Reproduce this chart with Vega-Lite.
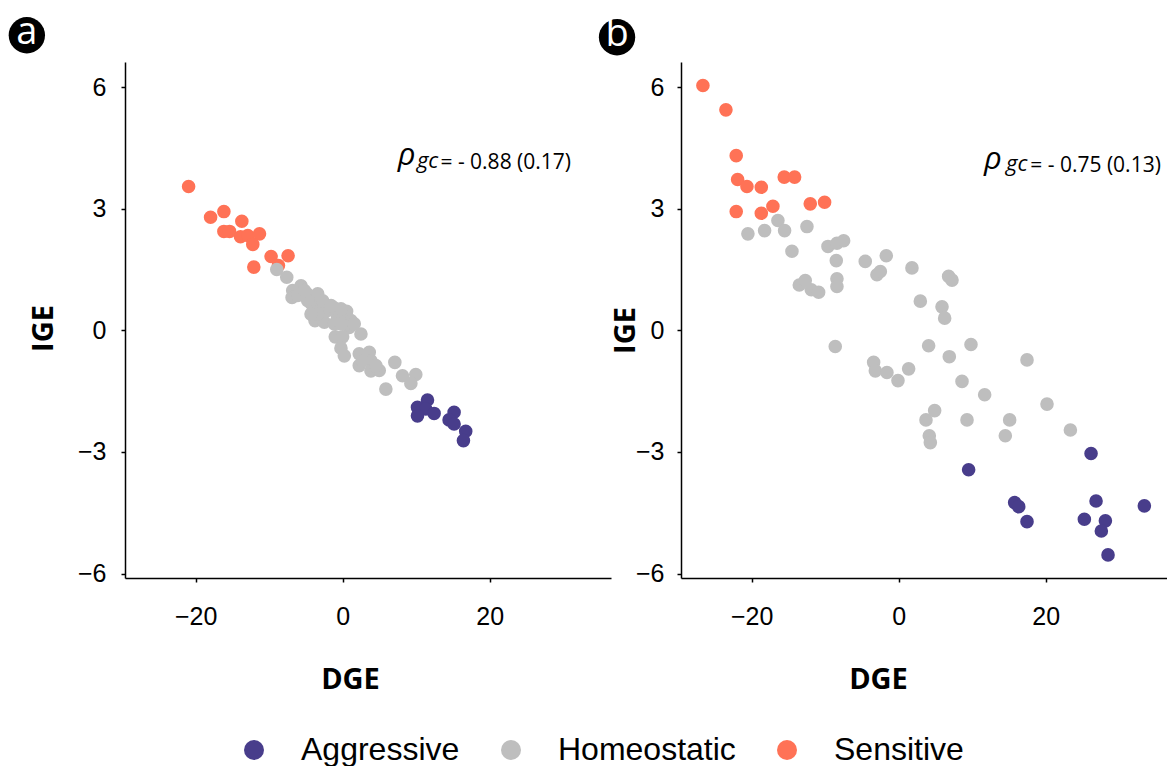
{
"$schema": "https://vega.github.io/schema/vega-lite/v6.json",
"padding": {"left": 8, "top": 14, "right": 0, "bottom": 0},
"background": "white",
"datasets": {
"pts": [
{"p":"a","DGE":-20.95,"IGE":3.55,"Group":"Sensitive"},
{"p":"a","DGE":-17.96,"IGE":2.79,"Group":"Sensitive"},
{"p":"a","DGE":-16.15,"IGE":2.93,"Group":"Sensitive"},
{"p":"a","DGE":-13.71,"IGE":2.69,"Group":"Sensitive"},
{"p":"a","DGE":-16.15,"IGE":2.44,"Group":"Sensitive"},
{"p":"a","DGE":-15.38,"IGE":2.44,"Group":"Sensitive"},
{"p":"a","DGE":-13.89,"IGE":2.31,"Group":"Sensitive"},
{"p":"a","DGE":-12.9,"IGE":2.34,"Group":"Sensitive"},
{"p":"a","DGE":-11.31,"IGE":2.38,"Group":"Sensitive"},
{"p":"a","DGE":-12.22,"IGE":2.12,"Group":"Sensitive"},
{"p":"a","DGE":-12.08,"IGE":1.56,"Group":"Sensitive"},
{"p":"a","DGE":-9.73,"IGE":1.82,"Group":"Sensitive"},
{"p":"a","DGE":-8.73,"IGE":1.6,"Group":"Sensitive"},
{"p":"a","DGE":-7.42,"IGE":1.84,"Group":"Sensitive"},
{"p":"a","DGE":-8.96,"IGE":1.5,"Group":"Homeostatic"},
{"p":"a","DGE":-7.6,"IGE":1.31,"Group":"Homeostatic"},
{"p":"a","DGE":-5.66,"IGE":1.1,"Group":"Homeostatic"},
{"p":"a","DGE":-6.79,"IGE":0.98,"Group":"Homeostatic"},
{"p":"a","DGE":-6.88,"IGE":0.81,"Group":"Homeostatic"},
{"p":"a","DGE":-4.84,"IGE":0.9,"Group":"Homeostatic"},
{"p":"a","DGE":-3.39,"IGE":0.9,"Group":"Homeostatic"},
{"p":"a","DGE":-4.21,"IGE":0.65,"Group":"Homeostatic"},
{"p":"a","DGE":-2.94,"IGE":0.53,"Group":"Homeostatic"},
{"p":"a","DGE":-3.76,"IGE":0.24,"Group":"Homeostatic"},
{"p":"a","DGE":-2.49,"IGE":0.2,"Group":"Homeostatic"},
{"p":"a","DGE":-1.27,"IGE":0.57,"Group":"Homeostatic"},
{"p":"a","DGE":-0.68,"IGE":0.32,"Group":"Homeostatic"},
{"p":"a","DGE":0.54,"IGE":0.47,"Group":"Homeostatic"},
{"p":"a","DGE":0.14,"IGE":0.28,"Group":"Homeostatic"},
{"p":"a","DGE":0.9,"IGE":0.07,"Group":"Homeostatic"},
{"p":"a","DGE":2.49,"IGE":-0.09,"Group":"Homeostatic"},
{"p":"a","DGE":-1.0,"IGE":-0.16,"Group":"Homeostatic"},
{"p":"a","DGE":0.0,"IGE":-0.16,"Group":"Homeostatic"},
{"p":"a","DGE":-0.23,"IGE":-0.44,"Group":"Homeostatic"},
{"p":"a","DGE":0.23,"IGE":-0.63,"Group":"Homeostatic"},
{"p":"a","DGE":2.26,"IGE":-0.58,"Group":"Homeostatic"},
{"p":"a","DGE":3.62,"IGE":-0.54,"Group":"Homeostatic"},
{"p":"a","DGE":3.85,"IGE":-0.75,"Group":"Homeostatic"},
{"p":"a","DGE":2.26,"IGE":-0.87,"Group":"Homeostatic"},
{"p":"a","DGE":3.85,"IGE":-1.0,"Group":"Homeostatic"},
{"p":"a","DGE":4.98,"IGE":-0.99,"Group":"Homeostatic"},
{"p":"a","DGE":7.1,"IGE":-0.79,"Group":"Homeostatic"},
{"p":"a","DGE":5.88,"IGE":-1.45,"Group":"Homeostatic"},
{"p":"a","DGE":8.14,"IGE":-1.12,"Group":"Homeostatic"},
{"p":"a","DGE":9.95,"IGE":-1.09,"Group":"Homeostatic"},
{"p":"a","DGE":9.28,"IGE":-1.31,"Group":"Homeostatic"},
{"p":"a","DGE":-6.1,"IGE":0.86,"Group":"Homeostatic"},
{"p":"a","DGE":-4.75,"IGE":0.73,"Group":"Homeostatic"},
{"p":"a","DGE":-2.04,"IGE":0.49,"Group":"Homeostatic"},
{"p":"a","DGE":-3.39,"IGE":0.4,"Group":"Homeostatic"},
{"p":"a","DGE":-1.13,"IGE":0.16,"Group":"Homeostatic"},
{"p":"a","DGE":1.13,"IGE":0.24,"Group":"Homeostatic"},
{"p":"a","DGE":2.71,"IGE":-0.75,"Group":"Homeostatic"},
{"p":"a","DGE":4.52,"IGE":-0.87,"Group":"Homeostatic"},
{"p":"a","DGE":-5.2,"IGE":0.98,"Group":"Homeostatic"},
{"p":"a","DGE":-2.71,"IGE":0.73,"Group":"Homeostatic"},
{"p":"a","DGE":-1.58,"IGE":0.61,"Group":"Homeostatic"},
{"p":"a","DGE":-0.23,"IGE":0.53,"Group":"Homeostatic"},
{"p":"a","DGE":-4.3,"IGE":0.4,"Group":"Homeostatic"},
{"p":"a","DGE":-0.23,"IGE":0.16,"Group":"Homeostatic"},
{"p":"a","DGE":1.58,"IGE":0.16,"Group":"Homeostatic"},
{"p":"a","DGE":10.18,"IGE":-1.9,"Group":"Aggressive"},
{"p":"a","DGE":11.54,"IGE":-1.72,"Group":"Aggressive"},
{"p":"a","DGE":11.31,"IGE":-1.94,"Group":"Aggressive"},
{"p":"a","DGE":12.44,"IGE":-2.05,"Group":"Aggressive"},
{"p":"a","DGE":10.18,"IGE":-2.11,"Group":"Aggressive"},
{"p":"a","DGE":15.16,"IGE":-2.02,"Group":"Aggressive"},
{"p":"a","DGE":14.48,"IGE":-2.21,"Group":"Aggressive"},
{"p":"a","DGE":15.16,"IGE":-2.31,"Group":"Aggressive"},
{"p":"a","DGE":16.74,"IGE":-2.49,"Group":"Aggressive"},
{"p":"a","DGE":16.43,"IGE":-2.72,"Group":"Aggressive"},
{"p":"b","DGE":-26.62,"IGE":6.04,"Group":"Sensitive"},
{"p":"b","DGE":-23.49,"IGE":5.44,"Group":"Sensitive"},
{"p":"b","DGE":-22.09,"IGE":4.31,"Group":"Sensitive"},
{"p":"b","DGE":-21.9,"IGE":3.72,"Group":"Sensitive"},
{"p":"b","DGE":-20.63,"IGE":3.55,"Group":"Sensitive"},
{"p":"b","DGE":-18.68,"IGE":3.53,"Group":"Sensitive"},
{"p":"b","DGE":-15.56,"IGE":3.78,"Group":"Sensitive"},
{"p":"b","DGE":-14.15,"IGE":3.78,"Group":"Sensitive"},
{"p":"b","DGE":-22.09,"IGE":2.93,"Group":"Sensitive"},
{"p":"b","DGE":-18.68,"IGE":2.89,"Group":"Sensitive"},
{"p":"b","DGE":-17.1,"IGE":3.06,"Group":"Sensitive"},
{"p":"b","DGE":-12.02,"IGE":3.12,"Group":"Sensitive"},
{"p":"b","DGE":-10.07,"IGE":3.16,"Group":"Sensitive"},
{"p":"b","DGE":-20.5,"IGE":2.38,"Group":"Homeostatic"},
{"p":"b","DGE":-18.23,"IGE":2.46,"Group":"Homeostatic"},
{"p":"b","DGE":-16.42,"IGE":2.71,"Group":"Homeostatic"},
{"p":"b","DGE":-15.51,"IGE":2.46,"Group":"Homeostatic"},
{"p":"b","DGE":-12.47,"IGE":2.56,"Group":"Homeostatic"},
{"p":"b","DGE":-14.51,"IGE":1.95,"Group":"Homeostatic"},
{"p":"b","DGE":-9.61,"IGE":2.07,"Group":"Homeostatic"},
{"p":"b","DGE":-8.39,"IGE":2.15,"Group":"Homeostatic"},
{"p":"b","DGE":-7.48,"IGE":2.21,"Group":"Homeostatic"},
{"p":"b","DGE":-8.48,"IGE":1.72,"Group":"Homeostatic"},
{"p":"b","DGE":-4.54,"IGE":1.7,"Group":"Homeostatic"},
{"p":"b","DGE":-1.68,"IGE":1.84,"Group":"Homeostatic"},
{"p":"b","DGE":1.81,"IGE":1.54,"Group":"Homeostatic"},
{"p":"b","DGE":-2.95,"IGE":1.37,"Group":"Homeostatic"},
{"p":"b","DGE":-2.49,"IGE":1.45,"Group":"Homeostatic"},
{"p":"b","DGE":6.8,"IGE":1.33,"Group":"Homeostatic"},
{"p":"b","DGE":7.26,"IGE":1.24,"Group":"Homeostatic"},
{"p":"b","DGE":-13.51,"IGE":1.12,"Group":"Homeostatic"},
{"p":"b","DGE":-12.7,"IGE":1.23,"Group":"Homeostatic"},
{"p":"b","DGE":-11.88,"IGE":1.0,"Group":"Homeostatic"},
{"p":"b","DGE":-10.88,"IGE":0.94,"Group":"Homeostatic"},
{"p":"b","DGE":-8.39,"IGE":1.27,"Group":"Homeostatic"},
{"p":"b","DGE":-8.39,"IGE":1.08,"Group":"Homeostatic"},
{"p":"b","DGE":2.95,"IGE":0.72,"Group":"Homeostatic"},
{"p":"b","DGE":5.9,"IGE":0.58,"Group":"Homeostatic"},
{"p":"b","DGE":6.26,"IGE":0.3,"Group":"Homeostatic"},
{"p":"b","DGE":-8.62,"IGE":-0.4,"Group":"Homeostatic"},
{"p":"b","DGE":4.08,"IGE":-0.38,"Group":"Homeostatic"},
{"p":"b","DGE":9.84,"IGE":-0.35,"Group":"Homeostatic"},
{"p":"b","DGE":6.89,"IGE":-0.65,"Group":"Homeostatic"},
{"p":"b","DGE":17.46,"IGE":-0.73,"Group":"Homeostatic"},
{"p":"b","DGE":-3.4,"IGE":-0.79,"Group":"Homeostatic"},
{"p":"b","DGE":-3.17,"IGE":-1.0,"Group":"Homeostatic"},
{"p":"b","DGE":-1.59,"IGE":-1.04,"Group":"Homeostatic"},
{"p":"b","DGE":1.36,"IGE":-0.95,"Group":"Homeostatic"},
{"p":"b","DGE":-0.09,"IGE":-1.24,"Group":"Homeostatic"},
{"p":"b","DGE":8.62,"IGE":-1.26,"Group":"Homeostatic"},
{"p":"b","DGE":11.7,"IGE":-1.59,"Group":"Homeostatic"},
{"p":"b","DGE":20.18,"IGE":-1.82,"Group":"Homeostatic"},
{"p":"b","DGE":4.9,"IGE":-1.98,"Group":"Homeostatic"},
{"p":"b","DGE":3.72,"IGE":-2.21,"Group":"Homeostatic"},
{"p":"b","DGE":9.3,"IGE":-2.21,"Group":"Homeostatic"},
{"p":"b","DGE":15.1,"IGE":-2.21,"Group":"Homeostatic"},
{"p":"b","DGE":14.51,"IGE":-2.6,"Group":"Homeostatic"},
{"p":"b","DGE":4.17,"IGE":-2.6,"Group":"Homeostatic"},
{"p":"b","DGE":4.31,"IGE":-2.77,"Group":"Homeostatic"},
{"p":"b","DGE":23.36,"IGE":-2.46,"Group":"Homeostatic"},
{"p":"b","DGE":9.52,"IGE":-3.44,"Group":"Aggressive"},
{"p":"b","DGE":26.17,"IGE":-3.04,"Group":"Aggressive"},
{"p":"b","DGE":15.78,"IGE":-4.25,"Group":"Aggressive"},
{"p":"b","DGE":16.33,"IGE":-4.35,"Group":"Aggressive"},
{"p":"b","DGE":17.46,"IGE":-4.72,"Group":"Aggressive"},
{"p":"b","DGE":26.85,"IGE":-4.21,"Group":"Aggressive"},
{"p":"b","DGE":33.42,"IGE":-4.33,"Group":"Aggressive"},
{"p":"b","DGE":25.26,"IGE":-4.66,"Group":"Aggressive"},
{"p":"b","DGE":28.12,"IGE":-4.7,"Group":"Aggressive"},
{"p":"b","DGE":27.57,"IGE":-4.95,"Group":"Aggressive"},
{"p":"b","DGE":28.48,"IGE":-5.54,"Group":"Aggressive"}
]
},
"spacing": 70,
"bounds": "flush",
"resolve": {"scale": {"color": "shared"}},
"config": {
"view": {"stroke": null},
"axis": {"grid": false, "domainColor": "black", "domainWidth": 1.5, "tickColor": "black", "tickWidth": 1.5, "tickSize": 4, "labelFont": "Liberation Sans", "labelFontSize": 25, "labelColor": "black", "labelFlush": false, "labelOverlap": false, "titleFont": "Open Sans", "titleFontSize": 29, "titleFontWeight": "bold", "titleColor": "black", "titleAlign": "center", "titleBaseline": "alphabetic"},
"legend": {"orient": "none", "legendX": 113, "legendY": 672, "direction": "horizontal", "symbolType": "circle", "symbolSize": 400, "symbolStrokeWidth": 0, "symbolOpacity": 1, "labelFont": "Liberation Sans", "labelFontSize": 32, "labelColor": "black", "labelOffset": 31, "labelLimit": 400, "columnPadding": 35, "padding": 0, "title": null}
},
"hconcat": [
{
"width": 486, "height": 516,
"layer": [
{
"data": {"name": "pts"},
"transform": [{"filter": "datum.p == 'a'"}],
"mark": {"type": "circle", "size": 185, "opacity": 1},
"encoding": {
"x": {"field": "DGE", "type": "quantitative", "scale": {"domain": [-29.6, 36.5], "nice": false, "zero": false}, "axis": {"values": [-20, 0, 20], "labelPadding": 22, "title": "DGE", "titleX": 225, "titleY": 110}},
"y": {"field": "IGE", "type": "quantitative", "scale": {"domain": [-6.11, 6.62], "nice": false, "zero": false}, "axis": {"values": [-6, -3, 0, 3, 6], "labelPadding": 15, "title": "IGE", "titleX": -73, "titleY": 266}},
"color": {"field": "Group", "type": "nominal", "scale": {"domain": ["Aggressive", "Homeostatic", "Sensitive"], "range": ["#483D8B", "#BEBEBE", "#FF7256"]}, "legend": {"title": null}}
}
},
{
"data": {"values": [{}]},
"mark": {"type": "circle", "size": 1320, "color": "black", "opacity": 1},
"encoding": {"x": {"datum": -42.95, "type": "quantitative"}, "y": {"datum": 7.28, "type": "quantitative"}}
},
{
"data": {"values": [{}]},
"mark": {"type": "text", "text": "a", "color": "white", "font": "Open Sans", "fontSize": 38, "align": "center", "baseline": "middle", "dy": -2},
"encoding": {"x": {"datum": -42.95, "type": "quantitative"}, "y": {"datum": 7.28, "type": "quantitative"}}
},
{
"data": {"values": [{}]},
"mark": {"type": "text", "text": "ρ", "color": "black", "font": "Open Sans", "fontStyle": "italic", "fontSize": 31, "align": "left", "baseline": "alphabetic"},
"encoding": {"x": {"datum": 7.5, "type": "quantitative"}, "y": {"datum": 4.07, "type": "quantitative"}}
},
{
"data": {"values": [{}]},
"mark": {"type": "text", "text": "gc", "color": "black", "font": "Open Sans", "fontStyle": "italic", "fontSize": 22, "align": "left", "baseline": "alphabetic"},
"encoding": {"x": {"datum": 10.1, "type": "quantitative"}, "y": {"datum": 4.0, "type": "quantitative"}}
},
{
"data": {"values": [{}]},
"mark": {"type": "text", "text": "= - 0.88 (0.17)", "color": "black", "font": "Open Sans", "fontSize": 21, "align": "left", "baseline": "alphabetic"},
"encoding": {"x": {"datum": 13.3, "type": "quantitative"}, "y": {"datum": 3.97, "type": "quantitative"}}
}
]
},
{
"width": 486, "height": 516,
"layer": [
{
"data": {"name": "pts"},
"transform": [{"filter": "datum.p == 'b'"}],
"mark": {"type": "circle", "size": 185, "opacity": 1},
"encoding": {
"x": {"field": "DGE", "type": "quantitative", "scale": {"domain": [-29.6, 36.5], "nice": false, "zero": false}, "axis": {"values": [-20, 0, 20], "labelPadding": 22, "title": "DGE", "titleX": 197, "titleY": 110}},
"y": {"field": "IGE", "type": "quantitative", "scale": {"domain": [-6.11, 6.62], "nice": false, "zero": false}, "axis": {"values": [-6, -3, 0, 3, 6], "labelPadding": 13, "title": "IGE", "titleX": -47, "titleY": 268}},
"color": {"field": "Group", "type": "nominal", "scale": {"domain": ["Aggressive", "Homeostatic", "Sensitive"], "range": ["#483D8B", "#BEBEBE", "#FF7256"]}, "legend": {"title": null}}
}
},
{
"data": {"values": [{}]},
"mark": {"type": "circle", "size": 1320, "color": "black", "opacity": 1},
"encoding": {"x": {"datum": -38.3, "type": "quantitative"}, "y": {"datum": 7.23, "type": "quantitative"}}
},
{
"data": {"values": [{}]},
"mark": {"type": "text", "text": "b", "color": "white", "font": "Open Sans", "fontSize": 38, "align": "center", "baseline": "middle", "dy": -2},
"encoding": {"x": {"datum": -38.3, "type": "quantitative"}, "y": {"datum": 7.23, "type": "quantitative"}}
},
{
"data": {"values": [{}]},
"mark": {"type": "text", "text": "ρ", "color": "black", "font": "Open Sans", "fontStyle": "italic", "fontSize": 31, "align": "left", "baseline": "alphabetic"},
"encoding": {"x": {"datum": 11.6, "type": "quantitative"}, "y": {"datum": 3.99, "type": "quantitative"}}
},
{
"data": {"values": [{}]},
"mark": {"type": "text", "text": "gc", "color": "black", "font": "Open Sans", "fontStyle": "italic", "fontSize": 22, "align": "left", "baseline": "alphabetic"},
"encoding": {"x": {"datum": 14.6, "type": "quantitative"}, "y": {"datum": 3.93, "type": "quantitative"}}
},
{
"data": {"values": [{}]},
"mark": {"type": "text", "text": "= - 0.75 (0.13)", "color": "black", "font": "Open Sans", "fontSize": 21, "align": "left", "baseline": "alphabetic"},
"encoding": {"x": {"datum": 17.9, "type": "quantitative"}, "y": {"datum": 3.91, "type": "quantitative"}}
}
]
}
]
}
